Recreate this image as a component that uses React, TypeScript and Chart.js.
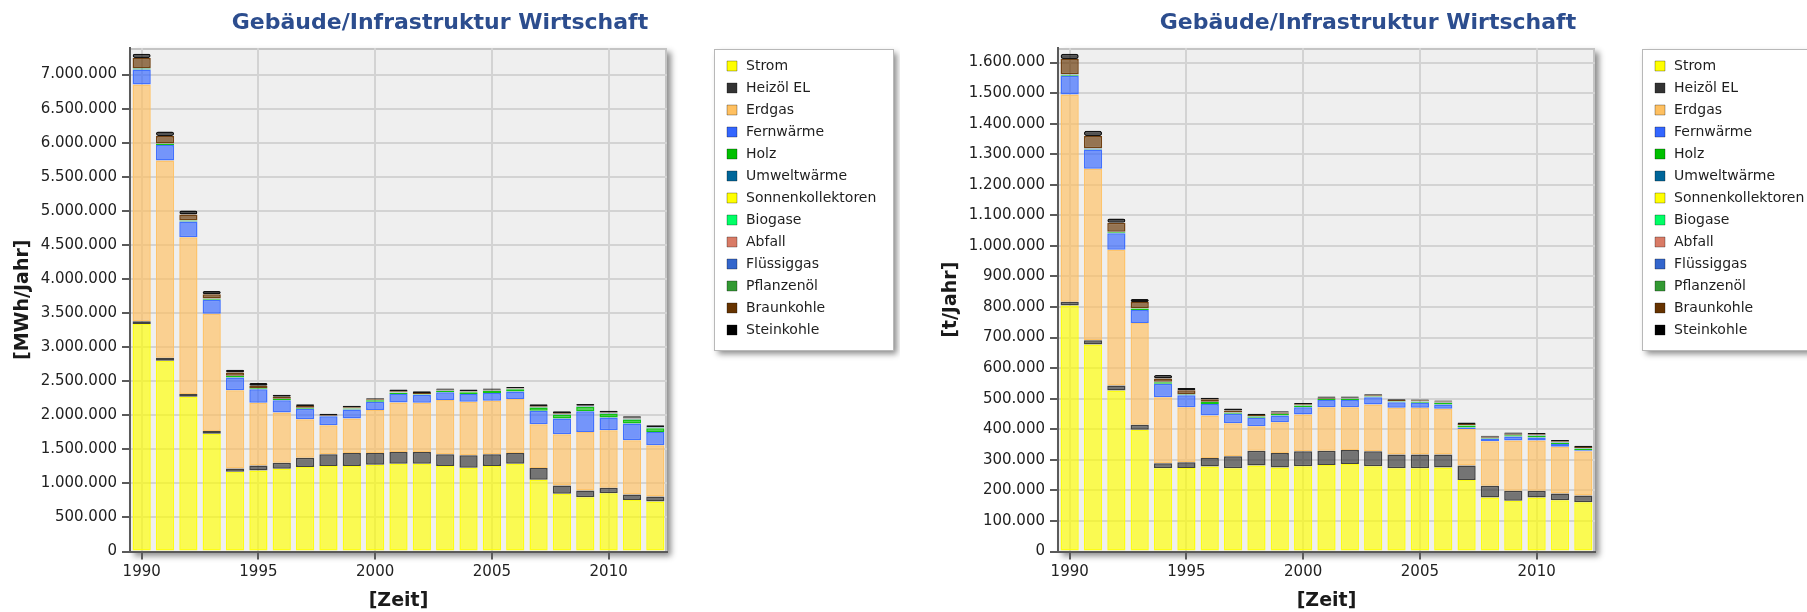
import React, { useEffect, useRef } from "react";
import { Chart, registerables } from "chart.js";

Chart.register(...registerables);

const FONT = "'DejaVu Sans', Verdana, sans-serif";
Chart.defaults.font.family = FONT;

const chartTitle = "Gebäude/Infrastruktur Wirtschaft";
const xAxisTitle = "[Zeit]";

const years = [
  "1990", "1991", "1992", "1993", "1994", "1995", "1996", "1997", "1998", "1999", "2000", "2001",
  "2002", "2003", "2004", "2005", "2006", "2007", "2008", "2009", "2010", "2011", "2012",
];

const seriesNames = [
  "Strom", "Heizöl EL", "Erdgas", "Fernwärme", "Holz", "Umweltwärme", "Sonnenkollektoren",
  "Biogase", "Abfall", "Flüssiggas", "Pflanzenöl", "Braunkohle", "Steinkohle",
];

const seriesColors = [
  "#FFFF00", "#333333", "#FFC060", "#3366FF", "#00C000", "#006699", "#FFFF00",
  "#00FF66", "#D97B66", "#3366CC", "#339933", "#663300", "#000000",
];

// ---- Endenergie [MWh/Jahr] ----
const stromMWh = [3340000, 2800000, 2270000, 1730000, 1170000, 1190000, 1215000, 1239000, 1254000, 1254000, 1274000, 1288000, 1288000, 1254000, 1229000, 1254000, 1288000, 1052000, 846000, 797000, 856000, 757000, 733000];
const heizoelMWh = [40000, 45000, 40000, 40000, 50000, 74000, 88000, 138000, 172000, 192000, 172000, 172000, 172000, 172000, 182000, 172000, 158000, 172000, 123000, 98000, 78000, 79000, 73000];
const erdgasMWh = [3475000, 2893000, 2304000, 1720000, 1145000, 919000, 737000, 565000, 428000, 506000, 629000, 728000, 723000, 796000, 787000, 787000, 791000, 644000, 752000, 860000, 846000, 796000, 753000];
const fernwaermeMWh = [220000, 230000, 229000, 205000, 190000, 197000, 180000, 155000, 130000, 133000, 123000, 123000, 113000, 114000, 113000, 113000, 113000, 197000, 231000, 305000, 187000, 246000, 196000];
const holzMWh = [15000, 15000, 15000, 15000, 20000, 15000, 17000, 10000, 5000, 15000, 22000, 20000, 10000, 20000, 25000, 30000, 30000, 50000, 55000, 60000, 50000, 60000, 54000];
const umweltwaermeMWh = [0, 0, 0, 0, 0, 0, 0, 0, 0, 0, 1000, 1500, 2000, 2500, 3000, 3500, 4000, 5000, 6000, 7000, 8000, 9000, 10000];
const sonnenkollektorenMWh = [0, 0, 0, 0, 0, 0, 0, 0, 0, 0, 0, 500, 500, 1000, 1000, 1000, 1500, 1500, 2000, 2000, 2000, 2500, 2500];
const biogaseMWh = [0, 0, 0, 0, 0, 0, 0, 0, 0, 0, 0, 0, 0, 0, 0, 0, 0, 0, 0, 0, 0, 0, 0];
const abfallMWh = [0, 0, 0, 0, 0, 0, 0, 0, 0, 0, 0, 0, 0, 0, 0, 0, 0, 0, 0, 0, 0, 0, 0];
const fluessiggasMWh = [6000, 6000, 5000, 5000, 5000, 4000, 4000, 4000, 4000, 3000, 3000, 3000, 3000, 3000, 3000, 3000, 3000, 3000, 3000, 2000, 2000, 2000, 2000];
const pflanzenoelMWh = [0, 0, 0, 0, 0, 0, 0, 0, 0, 0, 0, 0, 0, 0, 0, 0, 0, 0, 0, 0, 0, 0, 0];
const braunkohleMWh = [147000, 110000, 83000, 60000, 49000, 34000, 30000, 25000, 12000, 15000, 10000, 15000, 14000, 10000, 10000, 10000, 8000, 10000, 10000, 10000, 10000, 10000, 5000];
const steinkohleMWh = [63000, 65000, 59000, 50000, 39000, 39000, 30000, 24000, 18000, 20000, 15000, 25000, 25000, 20000, 24000, 20000, 17000, 25000, 30000, 25000, 25000, 25000, 25000];

// ---- CO2 [t/Jahr] ----
const stromT = [805000, 677000, 527000, 398000, 272000, 273000, 278000, 272000, 281000, 275000, 279000, 283000, 286000, 279000, 272000, 272000, 275000, 234000, 177000, 166000, 177000, 168000, 161000];
const heizoelT = [12000, 14000, 16000, 17000, 17000, 19000, 28000, 40000, 49000, 47000, 49000, 47000, 46000, 49000, 45000, 45000, 42000, 47000, 38000, 33000, 22000, 22000, 22000];
const erdgasT = [678000, 561000, 444000, 333000, 216000, 180000, 139000, 108000, 80000, 101000, 120000, 142000, 140000, 153000, 153000, 153000, 150000, 120000, 146000, 164000, 164000, 153000, 145000];
const fernwaermeT = [62000, 63000, 54000, 42000, 44000, 39000, 38000, 31000, 28000, 22000, 24000, 24000, 24000, 24000, 18000, 17000, 14000, 5000, 7000, 13000, 10000, 9000, 3000];
const holzT = [3000, 3000, 4000, 5000, 5000, 3000, 6000, 3000, 4000, 5000, 6000, 3000, 3000, 2000, 3000, 3000, 5000, 6000, 2000, 4000, 5000, 3000, 5000];
const umweltwaermeT = [0, 0, 0, 0, 0, 0, 0, 0, 0, 0, 300, 400, 500, 600, 700, 800, 900, 1200, 1400, 1600, 1800, 2000, 2200];
const sonnenkollektorenT = [0, 0, 0, 0, 0, 0, 0, 0, 0, 0, 0, 0, 0, 0, 0, 0, 0, 0, 0, 0, 0, 0, 0];
const biogaseT = [0, 0, 0, 0, 0, 0, 0, 0, 0, 0, 0, 0, 0, 0, 0, 0, 0, 0, 0, 0, 0, 0, 0];
const abfallT = [0, 0, 0, 0, 0, 0, 0, 0, 0, 0, 0, 0, 0, 0, 0, 0, 0, 0, 0, 0, 0, 0, 0];
const fluessiggasT = [1500, 1500, 1300, 1300, 1200, 1000, 1000, 1000, 1000, 800, 800, 800, 800, 800, 800, 800, 800, 800, 700, 600, 600, 600, 600];
const pflanzenoelT = [0, 0, 0, 0, 0, 0, 0, 0, 0, 0, 0, 0, 0, 0, 0, 0, 0, 0, 0, 0, 0, 0, 0];
const braunkohleT = [50000, 40000, 29000, 20000, 11000, 13000, 8000, 6000, 4000, 4000, 3000, 3000, 3000, 3000, 3000, 3000, 3000, 3000, 3000, 3000, 3000, 3000, 3000];
const steinkohleT = [17000, 17000, 14000, 10000, 11000, 7000, 5000, 7000, 4000, 4000, 4000, 4000, 4000, 3000, 3000, 3000, 3000, 5000, 4000, 4000, 4000, 4000, 4000];

const energyData = [stromMWh, heizoelMWh, erdgasMWh, fernwaermeMWh, holzMWh, umweltwaermeMWh, sonnenkollektorenMWh, biogaseMWh, abfallMWh, fluessiggasMWh, pflanzenoelMWh, braunkohleMWh, steinkohleMWh];
const co2Data = [stromT, heizoelT, erdgasT, fernwaermeT, holzT, umweltwaermeT, sonnenkollektorenT, biogaseT, abfallT, fluessiggasT, pflanzenoelT, braunkohleT, steinkohleT];

// y tick values
const energyTicks = [0, 500000, 1000000, 1500000, 2000000, 2500000, 3000000, 3500000, 4000000, 4500000, 5000000, 5500000, 6000000, 6500000, 7000000];
const co2Ticks = [0, 100000, 200000, 300000, 400000, 500000, 600000, 700000, 800000, 900000, 1000000, 1100000, 1200000, 1300000, 1400000, 1500000, 1600000];

const energyAxis = { unit: "[MWh/Jahr]", max: 7390000, ticks: energyTicks };
const co2Axis = { unit: "[t/Jahr]", max: 1647500, ticks: co2Ticks };

function rgba(hex: string, a: number) {
  const n = parseInt(hex.slice(1), 16);
  return `rgba(${(n >> 16) & 255},${(n >> 8) & 255},${n & 255},${a})`;
}

function fmt(v: number) {
  return Math.round(v).toString().replace(/\B(?=(\d{3})+(?!\d))/g, ".");
}

const AXIS_COLOR = "#5a5a5a";
const GRID_COLOR = "#d3d3d3";
const PLOT_RIGHT = 667;
const LAYOUT_RIGHT = 880;

const framePlugin = {
  id: "frame",
  afterLayout(chart: any) {
    const lg = chart.legend;
    if (!lg) return;
    const h = lg.height;
    lg.left = 717;
    lg.right = 900;
    lg.width = 183;
    lg.top = 51;
    lg.bottom = 51 + h;
  },
  beforeDraw(chart: any) {
    const { ctx, chartArea: a } = chart;
    ctx.save();
    ctx.shadowColor = "rgba(0,0,0,0.45)";
    ctx.shadowBlur = 6;
    ctx.shadowOffsetX = 4;
    ctx.shadowOffsetY = 4;
    ctx.fillStyle = "#efefef";
    ctx.fillRect(a.left, a.top, a.right - a.left, a.bottom - a.top);
    ctx.shadowColor = "rgba(0,0,0,0)";
    ctx.strokeStyle = "#c4c4c4";
    ctx.lineWidth = 2;
    ctx.beginPath();
    ctx.moveTo(a.left, a.top + 1);
    ctx.lineTo(a.right - 1, a.top + 1);
    ctx.lineTo(a.right - 1, a.bottom);
    ctx.stroke();
    // legend frame
    ctx.shadowColor = "rgba(0,0,0,0.45)";
    ctx.shadowBlur = 6;
    ctx.shadowOffsetX = 4;
    ctx.shadowOffsetY = 4;
    ctx.fillStyle = "#ffffff";
    ctx.fillRect(714, 49, 179, 301);
    ctx.shadowColor = "rgba(0,0,0,0)";
    ctx.strokeStyle = "#b8b8b8";
    ctx.lineWidth = 1;
    ctx.strokeRect(714.5, 49.5, 179, 301);
    ctx.restore();
  },
};

function StackChart({ data, axis, left }: { data: number[][]; axis: { unit: string; max: number; ticks: number[] }; left: number }) {
  const ref = useRef<HTMLCanvasElement>(null);
  useEffect(() => {
    const canvas = ref.current;
    if (!canvas) return;
    const chart = new Chart(canvas, {
      type: "bar",
      data: {
        labels: years,
        datasets: seriesNames.map((name, i) => ({
          label: name,
          data: data[i],
          backgroundColor: rgba(seriesColors[i], 0.66),
          borderColor: rgba(seriesColors[i], 0.92),
          borderWidth: 1.5,
          borderRadius: 3,
          borderSkipped: false,
          categoryPercentage: 0.78,
          barPercentage: 1,
          stack: "s",
        })),
      },
      options: {
        responsive: false,
        animation: false,
        devicePixelRatio: 1,
        layout: { padding: { left: 0, right: 900 - LAYOUT_RIGHT, top: 0, bottom: 0 } },
        plugins: {
          title: {
            display: true,
            text: chartTitle,
            color: "#2C4D8E",
            font: { family: FONT, size: 22, weight: "bold" },
            padding: { top: 10, bottom: 11.6 },
          },
          legend: {
            position: "right",
            align: "start",
            maxWidth: 400,
            labels: {
              font: { family: FONT, size: 14 },
              color: "#1e1e1e",
              padding: 8,
              usePointStyle: true,
              pointStyle: "rect",
              boxWidth: 14,
              boxHeight: 10,
              generateLabels: (c: any) =>
                (Chart.defaults.plugins.legend.labels.generateLabels as any)(c).map((it: any, i: number) => ({
                  ...it,
                  fillStyle: seriesColors[i],
                  strokeStyle: "rgba(0,0,0,0.3)",
                  lineWidth: 1,
                  pointStyle: "rect",
                })),
            },
          },
          tooltip: { enabled: false },
        },
        scales: {
          x: {
            type: "category",
            stacked: true,
            offset: true,
            grid: {
              offset: false,
              color: GRID_COLOR,
              lineWidth: 2,
              tickColor: AXIS_COLOR,
              tickWidth: 2,
              tickLength: 8,
            },
            border: { display: true, color: AXIS_COLOR, width: 2 },
            ticks: {
              autoSkip: false,
              maxRotation: 0,
              padding: 4,
              color: "#222",
              font: { family: FONT, size: 15 },
              callback: (_v: any, idx: number) => {
                const y = Number(years[idx]);
                return y % 5 === 0 ? years[idx] : null;
              },
            },
            title: {
              display: true,
              text: xAxisTitle,
              color: "#1a1a1a",
              font: { family: FONT, size: 19, weight: "bold" },
              padding: { top: 0, bottom: 0 },
            },
            afterFit: (s: any) => {
              s.height = 60.5;
            },
          },
          y: {
            type: "linear",
            stacked: true,
            min: 0,
            max: axis.max,
            afterBuildTicks: (s: any) => {
              s.ticks = axis.ticks.map((v) => ({ value: v }));
            },
            grid: {
              color: GRID_COLOR,
              lineWidth: 2,
              tickColor: AXIS_COLOR,
              tickWidth: 2,
              tickLength: 8,
            },
            border: { display: true, color: AXIS_COLOR, width: 2 },
            ticks: {
              autoSkip: false,
              padding: 5,
              color: "#222",
              font: { family: FONT, size: 15 },
              callback: (v: any) => fmt(Number(v)),
            },
            title: {
              display: true,
              text: axis.unit,
              color: "#1a1a1a",
              font: { family: FONT, size: 19, weight: "bold" },
              padding: { top: 12, bottom: 0 },
            },
            afterFit: (s: any) => {
              s.width = 130;
            },
          },
          y2: {
            type: "linear",
            position: "right",
            display: true,
            grid: { display: false, drawTicks: false },
            ticks: { display: false },
            border: { display: false },
            afterFit: (s: any) => {
              const lw = s.chart.legend ? s.chart.legend.width : 0;
              s.width = Math.max(0, LAYOUT_RIGHT - PLOT_RIGHT - lw);
            },
          },
        },
      } as any,
      plugins: [framePlugin],
    } as any);
    return () => chart.destroy();
  }, []);
  return (
    <canvas
      ref={ref}
      width={900}
      height={612}
      style={{ position: "absolute", left, top: 0, width: 900, height: 612 }}
    />
  );
}

export default function App() {
  return (
    <div
      style={{
        position: "fixed",
        left: 0,
        top: 0,
        width: 1807,
        height: 612,
        overflow: "hidden",
        background: "#ffffff",
      }}
    >
      <StackChart data={energyData} axis={energyAxis} left={0} />
      <StackChart data={co2Data} axis={co2Axis} left={928} />
    </div>
  );
}
